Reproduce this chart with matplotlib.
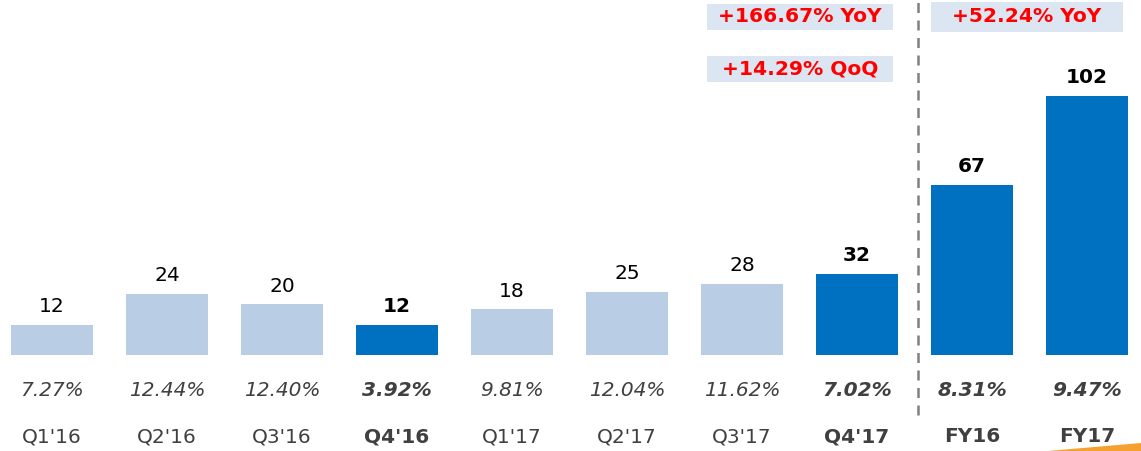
import matplotlib
matplotlib.use("Agg")
import matplotlib.pyplot as plt
from matplotlib.patches import Rectangle, Polygon

categories = ["Q1'16", "Q2'16", "Q3'16", "Q4'16", "Q1'17", "Q2'17", "Q3'17", "Q4'17", "FY16", "FY17"]
values = [12, 24, 20, 12, 18, 25, 28, 32, 67, 102]
margins = ["7.27%", "12.44%", "12.40%", "3.92%", "9.81%", "12.04%", "11.62%", "7.02%", "8.31%", "9.47%"]
highlight = [False, False, False, True, False, False, False, True, True, True]
growth_labels = ["+166.67% YoY", "+14.29% QoQ", "+52.24% YoY"]

W, H = 1141, 451
fig = plt.figure(figsize=(W / 100, H / 100), dpi=100)
ax = fig.add_axes([0, 0, 1, 1])
ax.set_axis_off()

light = "#B9CDE5"
dark = "#0070C0"
grey = "#404040"

x = list(range(len(values)))
colors = [dark if h else light for h in highlight]
ax.bar(x, values, width=0.72, color=colors, zorder=2)

# pixel mapping: bar centers at 52 + 115*i, baseline at y=355, 2.54 px/unit
ax.set_xlim(-52 / 115, (W - 52) / 115)
ax.set_ylim(-(H - 355) / 2.54, 355 / 2.54)

for i, v in enumerate(values):
    ax.text(i, v + 3.4, str(v), ha="center", va="bottom", fontsize=14.5,
            fontweight="bold" if highlight[i] else "normal", color="black")

trans = ax.get_xaxis_transform()
for i, m in enumerate(margins):
    ax.text(i, 1 - 390 / H, m, transform=trans, ha="center", va="center", fontsize=14.5,
            style="italic", fontweight="bold" if highlight[i] else "normal", color=grey)
    ax.text(i, 1 - 437 / H, categories[i], transform=trans, ha="center", va="center",
            fontsize=14.5, fontweight="bold" if highlight[i] else "normal", color=grey)

# dashed separator
ax.plot([(918 - 52) / 115] * 2, [1 - 415 / H, 1.0], transform=trans, color="#808080",
        lw=1.8, linestyle=(0, (4, 3)), zorder=1)

# growth boxes (pixel coordinates in figure)
def px_box(x0, y0, x1, y1, label):
    fig.patches.append(Rectangle((x0 / W, 1 - y1 / H), (x1 - x0) / W, (y1 - y0) / H,
                                 transform=fig.transFigure, facecolor="#DCE6F2",
                                 edgecolor="none", zorder=0))
    fig.text((x0 + x1) / 2 / W, 1 - (y0 + y1) / 2 / H, label, ha="center", va="center",
             fontsize=14.6, fontweight="bold", color="#FF0000")

px_box(707, 4, 893, 30, growth_labels[0])
px_box(707, 56, 893, 82, growth_labels[1])
px_box(931, 2, 1123, 32, growth_labels[2])

# orange swoosh bottom-right
fig.patches.append(Polygon([(1048 / W, 0.0), (1141 / W, 1 - 443 / H), (1141 / W, 0.0)],
                           closed=True, transform=fig.transFigure, facecolor="#F5A030",
                           edgecolor="none"))

fig.savefig("out.png", dpi=100)
